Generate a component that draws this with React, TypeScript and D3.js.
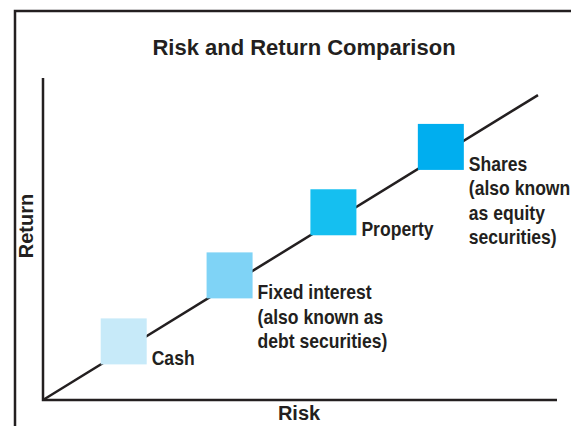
import * as d3 from "d3";

// asset classes along the risk/return line (0-100 scale on both axes)
const assets = ["Cash", "Fixed interest", "Property", "Shares"];
const riskValues = [15.7, 36.3, 56.5, 77.4];
const returnValues = [18.2, 38.7, 58.3, 78.6];
const assetColors = ["#c7eaf9", "#7fd3f6", "#15bff0", "#00aeef"];
const assetLabels = [
    ["Cash"],
    ["Fixed interest", "(also known as", "debt securities)"],
    ["Property"],
    ["Shares", "(also known", "as equity", "securities)"],
];
const trendRisk = [0, 96.3];
const trendReturn = [0, 94.7];

const width = 571;
const height = 426;
const margin = { top: 78, right: 14, bottom: 26, left: 43 };
const ink = "#231f20";
const font = "'Liberation Sans', Arial, sans-serif";

export default function App() {
    const x = d3.scaleLinear().domain([0, 100]).range([margin.left, width - margin.right]);
    const y = d3.scaleLinear().domain([0, 100]).range([height - margin.bottom, margin.top]);

    const line = d3.line<number>()
        .x((_, i) => x(trendRisk[i]))
        .y((d) => y(d));

    const size = 46;

    return (
        <svg width={width} height={height} style={{ position: "absolute", left: 0, top: 0, background: "#fff" }}>
            {/* outer frame */}
            <path d={`M15,${height} V11 H${width}`} fill="none" stroke={ink} strokeWidth={2.5} />

            <text x={304} y={55} textAnchor="middle" fontFamily={font} fontWeight="bold" fontSize={22} fill={ink}>
                Risk and Return Comparison
            </text>

            {/* axes */}
            <path
                d={`M${x(0)},${y(100)} V${y(0)} H${x(100)}`}
                fill="none"
                stroke={ink}
                strokeWidth={2.5}
            />
            <path d={line(trendReturn) ?? ""} fill="none" stroke={ink} strokeWidth={2.5} />

            {assets.map((a, i) => {
                const cx = x(riskValues[i]);
                const cy = y(returnValues[i]);
                // labels are set in a narrow face: squeeze horizontally
                return (
                    <g key={a}>
                        <rect x={cx - size / 2} y={cy - size / 2} width={size} height={size} fill={assetColors[i]} />
                        <text
                            transform={`translate(${cx + size / 2 + 5},${cy + size / 2 + 1}) scale(0.9,1)`}
                            fontFamily={font}
                            fontWeight="bold"
                            fontSize={19.5}
                            fill={ink}
                        >
                            {assetLabels[i].map((t, j) => (
                                <tspan key={j} x={0} dy={j === 0 ? 0 : 24.5}>
                                    {t}
                                </tspan>
                            ))}
                        </text>
                    </g>
                );
            })}

            <text x={299} y={420} textAnchor="middle" fontFamily={font} fontWeight="bold" fontSize={20} fill={ink}>
                Risk
            </text>
            <text
                transform="translate(33,226) rotate(-90)"
                textAnchor="middle"
                fontFamily={font}
                fontWeight="bold"
                fontSize={20}
                fill={ink}
            >
                Return
            </text>
        </svg>
    );
}
